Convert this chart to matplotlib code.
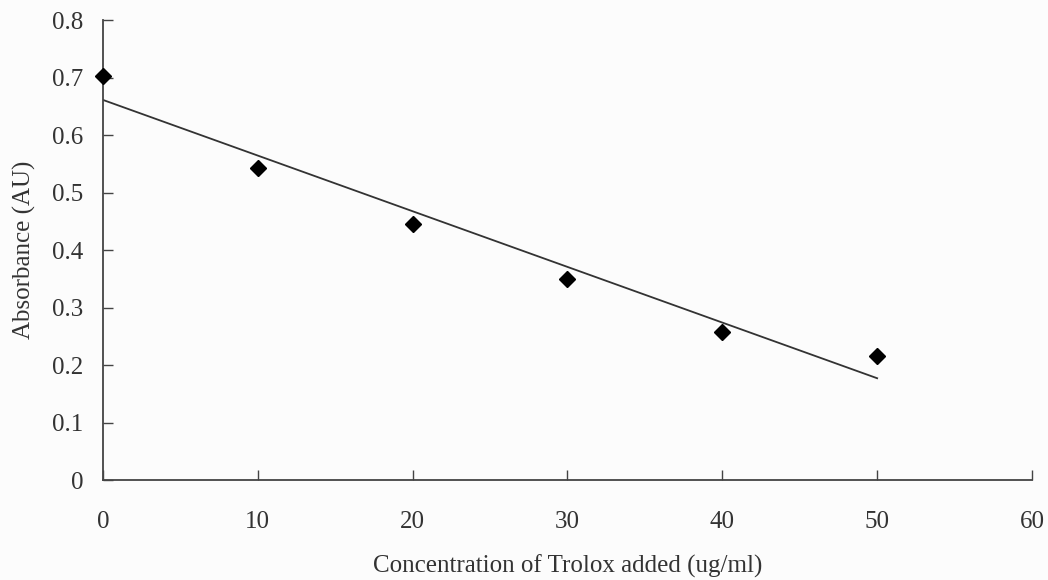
import numpy as np
import matplotlib.pyplot as plt

plt.rcParams['font.family'] = ['Liberation Serif', 'DejaVu Serif']

# Trolox concentration (ug/ml) and measured absorbance
conc = [0, 10, 20, 30, 40, 50]
absorb = [0.703, 0.543, 0.445, 0.350, 0.257, 0.216]
xticks = [0, 10, 20, 30, 40, 50, 60]
yticks = [0, 0.1, 0.2, 0.3, 0.4, 0.5, 0.6, 0.7, 0.8]
ytick_labels = ['0', '0.1', '0.2', '0.3', '0.4', '0.5', '0.6', '0.7', '0.8']

fig = plt.figure(figsize=(10.48, 5.8), dpi=100)
fig.patch.set_facecolor('#fcfcfc')
ax = fig.add_axes([0.0983, 0.1724, 0.8864, 0.7931])
ax.set_facecolor('#fcfcfc')

# linear trendline over the measured range
k, b = np.polyfit(conc, absorb, 1)
xs = np.array([conc[0], conc[-1]])
ax.plot(xs, k * xs + b, color='#333333', lw=1.3, zorder=2)

ax.plot(conc, absorb, 'D', color='black', markersize=8, zorder=3, clip_on=False)

ax.set_xlim(0, 60)
ax.set_ylim(0, 0.8)
ax.set_xticks(xticks)
ax.set_yticks(yticks)
ax.set_yticklabels(ytick_labels)
ax.tick_params(direction='in', length=7, width=1, color='#444444',
               labelsize=18, labelcolor='#333333')
ax.tick_params(axis='x', pad=22)
ax.tick_params(axis='y', pad=14)

for s in ['top', 'right']:
    ax.spines[s].set_visible(False)
for s in ['left', 'bottom']:
    ax.spines[s].set_color('#444444')
    ax.spines[s].set_linewidth(1.3)

ax.set_xlabel('Concentration of Trolox added (ug/ml)', fontsize=18,
              color='#333333', labelpad=16)
ax.set_ylabel('Absorbance (AU)', fontsize=18, color='#333333', labelpad=12)

fig.savefig('out.png', dpi=100, facecolor=fig.get_facecolor())
